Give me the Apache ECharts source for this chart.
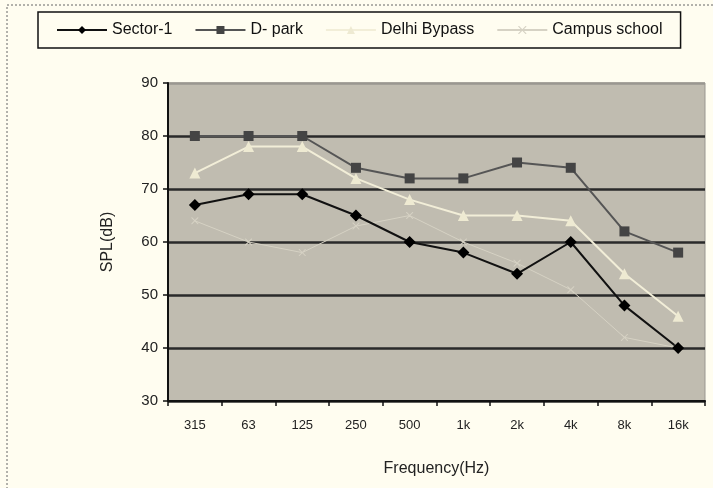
<!DOCTYPE html>
<html>
<head>
<meta charset="utf-8">
<script src="https://cdn.jsdelivr.net/npm/echarts@6/dist/echarts.min.js"></script>
<style>
  html, body { margin: 0; padding: 0; background: #fffdf0; }
  #chart { width: 713px; height: 488px; }
</style>
</head>
<body>
<div id="chart"></div>
<script>
const categories = ['315', '63', '125', '250', '500', '1k', '2k', '4k', '8k', '16k'];
const sector1 = [67, 69, 69, 65, 60, 58, 54, 60, 48, 40];
const dPark = [80, 80, 80, 74, 72, 72, 75, 74, 62, 58];
const delhiBypass = [73, 78, 78, 72, 68, 65, 65, 64, 54, 46];
const campusSchool = [64, 60, 58, 63, 65, 60, 56, 51, 42, 40];

const chart = echarts.init(document.getElementById('chart'));
const font = 'Liberation Sans, Arial, sans-serif';
// small x-shaped marker for Campus school
const crossPath = 'path://M0,0 L10,10 M10,0 L0,10 M0,0 L1,0 L10,9 L10,10 L9,10 L0,1 Z M9,0 L10,0 L10,1 L1,10 L0,10 L0,9 Z';

chart.setOption({
    backgroundColor: '#fffdf0',
    animation: false,
    textStyle: { fontFamily: font },
    graphic: [
        {
            type: 'rect',
            shape: { x: 7, y: 5, width: 720, height: 500 },
            style: { fill: 'none', stroke: '#666', lineWidth: 1, lineDash: [2, 2] },
            silent: true,
        },
    ],
    legend: {
        top: 12,
        left: 38,
        itemWidth: 50,
        itemHeight: 10,
        itemGap: 22,
        padding: [10, 18, 10, 18],
        borderColor: '#111',
        borderWidth: 1.5,
        textStyle: { fontSize: 16, color: '#111', fontFamily: font },
        data: ['Sector-1', 'D- park', 'Delhi Bypass', 'Campus school'],
    },
    grid: {
        left: 168,
        right: 8,
        top: 83,
        bottom: 87,
        show: true,
        backgroundColor: '#c0bcb0',
        borderColor: '#9a9790',
        borderWidth: 1,
    },
    xAxis: {
        type: 'category',
        data: categories,
        name: 'Frequency(Hz)',
        nameLocation: 'middle',
        nameGap: 60,
        nameTextStyle: { fontSize: 16, color: '#222', fontFamily: font },
        axisLine: { lineStyle: { color: '#111', width: 2 } },
        axisTick: { show: true, length: 5, lineStyle: { color: '#111', width: 1.5 } },
        axisLabel: { fontSize: 13, color: '#222', margin: 18 },
    },
    yAxis: {
        type: 'value',
        min: 30,
        max: 90,
        interval: 10,
        name: 'SPL(dB)',
        nameLocation: 'middle',
        nameGap: 52,
        nameTextStyle: { fontSize: 16, color: '#222', fontFamily: font },
        axisLine: { show: true, lineStyle: { color: '#111', width: 2 } },
        axisTick: { show: true, length: 5, lineStyle: { color: '#111', width: 1.5 } },
        axisLabel: { fontSize: 15, color: '#222', margin: 10 },
        splitLine: {
            lineStyle: {
                color: ['#2a2a2a', '#2a2a2a', '#2a2a2a', '#2a2a2a', '#2a2a2a', '#2a2a2a', '#9a9790'],
                width: 2.5,
            },
        },
    },
    series: [
        {
            name: 'Campus school',
            type: 'line',
            data: campusSchool,
            symbol: crossPath,
            symbolSize: 7,
            lineStyle: { color: '#d6d2c4', width: 1 },
            itemStyle: { color: '#d6d2c4' },
        },
        {
            name: 'Delhi Bypass',
            type: 'line',
            data: delhiBypass,
            symbol: 'triangle',
            symbolSize: 11,
            lineStyle: { color: '#f2eed8', width: 2 },
            itemStyle: { color: '#eeead2' },
        },
        {
            name: 'D- park',
            type: 'line',
            data: dPark,
            symbol: 'rect',
            symbolSize: 10,
            lineStyle: { color: '#555', width: 2 },
            itemStyle: { color: '#444' },
        },
        {
            name: 'Sector-1',
            type: 'line',
            data: sector1,
            symbol: 'diamond',
            symbolSize: 12,
            lineStyle: { color: '#111', width: 2 },
            itemStyle: { color: '#000' },
        },
    ],
});
</script>
</body>
</html>
